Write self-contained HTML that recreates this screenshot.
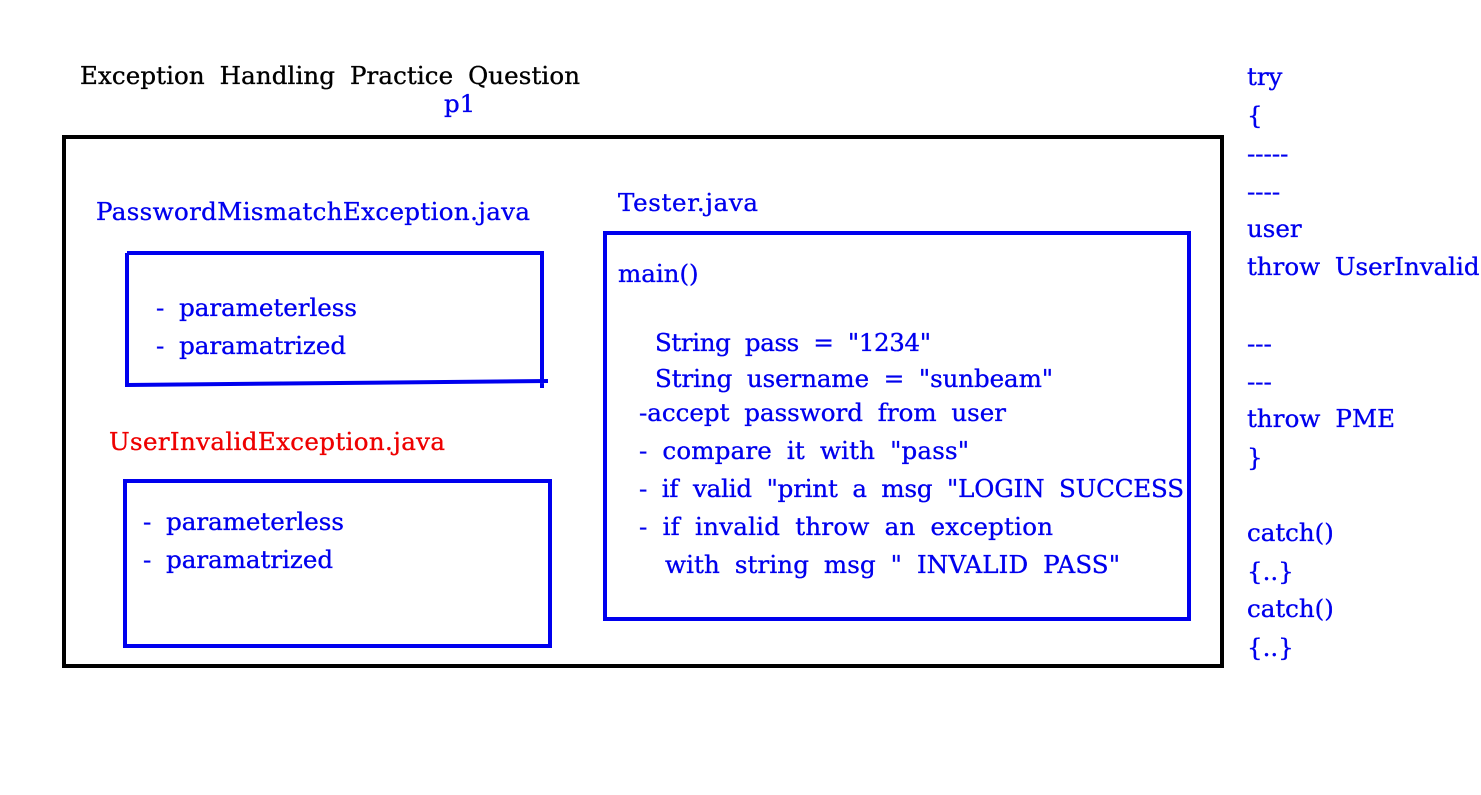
<!DOCTYPE html>
<html><head><meta charset="utf-8"><style>
html,body{margin:0;padding:0;background:#fff;}
svg{display:block;}
text{font-family:"DejaVu Serif","Liberation Serif",serif;font-size:24.5px;word-spacing:7px;stroke-width:0.35px;}
.b{fill:#0000ee;stroke:#0000ee;}
.k{fill:#000;stroke:#000;}
.r{fill:#ee0000;stroke:#ee0000;}
</style></head><body>
<svg width="1481" height="795" viewBox="0 0 1481 795">
<rect x="0" y="0" width="1481" height="795" fill="#fff"/>
<text x="80" y="84" class="k" textLength="500">Exception Handling Practice Question</text>
<text x="444" y="112" class="b">p1</text>
<rect x="64" y="137" width="1158" height="529" fill="none" stroke="#000" stroke-width="4"/>
<text x="96" y="220" class="b" textLength="434">PasswordMismatchException.java</text>
<path d="M127 253 L542 253 L542 388 M127 253 L127 385 L548 381" fill="none" stroke="#0000ee" stroke-width="4"/>
<text x="156" y="316" class="b">-  parameterless</text>
<text x="156" y="354" class="b">-  paramatrized</text>
<text x="109" y="450" class="r" textLength="336">UserInvalidException.java</text>
<rect x="125" y="481" width="425" height="165" fill="none" stroke="#0000ee" stroke-width="4"/>
<text x="143" y="530" class="b">-  parameterless</text>
<text x="143" y="568" class="b">-  paramatrized</text>
<text x="618" y="211" class="b" textLength="140">Tester.java</text>
<rect x="605" y="233" width="584" height="386" fill="none" stroke="#0000ee" stroke-width="4"/>
<text x="618" y="282" class="b">main()</text>
<text x="655" y="351" class="b" textLength="276">String pass = "1234"</text>
<text x="655" y="387" class="b" textLength="398">String username = "sunbeam"</text>
<text x="639" y="421" class="b" textLength="367">-accept password from user</text>
<text x="639" y="459" class="b" textLength="330">- compare it with "pass"</text>
<text x="639" y="497" class="b" textLength="545">- if valid "print a msg "LOGIN SUCCESS</text>
<text x="639" y="535" class="b" textLength="414">- if invalid throw an exception</text>
<text x="665" y="573" class="b" textLength="455">with string msg " INVALID PASS"</text>
<text x="1247" y="85" class="b">try</text>
<text x="1247" y="124" class="b">{</text>
<text x="1247" y="162" class="b">-----</text>
<text x="1247" y="200" class="b">----</text>
<text x="1247" y="237" class="b">user</text>
<text x="1247" y="275" class="b">throw UserInvalid</text>
<text x="1247" y="352" class="b">---</text>
<text x="1247" y="390" class="b">---</text>
<text x="1247" y="427" class="b" textLength="148">throw PME</text>
<text x="1247" y="466" class="b">}</text>
<text x="1247" y="541" class="b">catch()</text>
<text x="1247" y="580" class="b">{..}</text>
<text x="1247" y="617" class="b">catch()</text>
<text x="1247" y="656" class="b">{..}</text>
</svg>
</body></html>
